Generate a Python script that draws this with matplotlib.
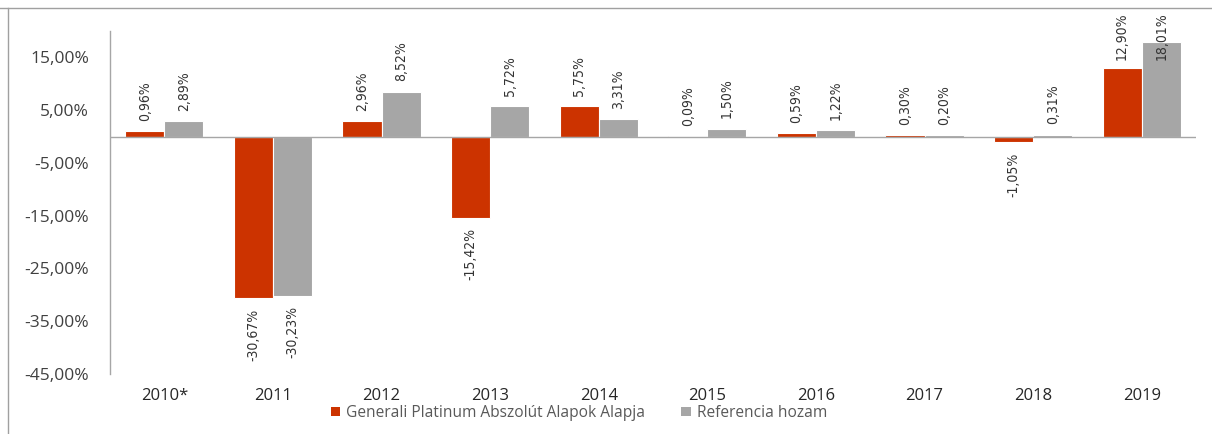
import matplotlib
matplotlib.use("Agg")
import matplotlib.pyplot as plt
from matplotlib.patches import Patch
from matplotlib.lines import Line2D
from matplotlib import font_manager

categories = ["2010*", "2011", "2012", "2013", "2014", "2015", "2016", "2017", "2018", "2019"]
fund_values = [0.96, -30.67, 2.96, -15.42, 5.75, 0.09, 0.59, 0.30, -1.05, 12.90]
ref_values = [2.89, -30.23, 8.52, 5.72, 3.31, 1.50, 1.22, 0.20, 0.31, 18.01]
series_names = ["Generali Platinum Abszolút Alapok Alapja", "Referencia hozam"]
yticks = [15, 5, -5, -15, -25, -35, -45]

RED = "#CC3300"
GRAY = "#A6A6A6"

# look for a regular-weight condensed font for the data labels
cands = []
for f in font_manager.fontManager.ttflist:
    n = (f.name + " " + f.fname).lower()
    if ("condensed" in n or "narrow" in n) and f.style == "normal":
        w = f.weight if isinstance(f.weight, int) else 400
        if 300 <= w <= 400 and "semi" not in f.fname.lower() and "extra" not in f.fname.lower():
            cands.append((abs(w - 400), f.fname))
cands.sort()
if cands:
    lbl_prop = font_manager.FontProperties(fname=cands[0][1], size=10)
else:
    lbl_prop = font_manager.FontProperties(family=["Roboto", "DejaVu Sans"], size=9.5)

plt.rcParams['font.family'] = ['Open Sans', 'DejaVu Sans']

W, H = 1212, 434
fig = plt.figure(figsize=(W / 100, H / 100), dpi=100)
ax = fig.add_axes([110 / W, 1 - 374 / H, (1196 - 110) / W, (374 - 31) / H])

x = list(range(len(categories)))
bw = 0.36
fx = [i - bw / 2 for i in x]
rx = [i + bw / 2 for i in x]
ax.bar(fx, fund_values, width=bw, color=RED, edgecolor="white", linewidth=0.8, zorder=2)
ax.bar(rx, ref_values, width=bw, color=GRAY, edgecolor="white", linewidth=0.8, zorder=2)

ax.set_xlim(-0.5, len(categories) - 0.5)
ax.set_ylim(-45, 20)
ax.axhline(0, color="#A6A6A6", linewidth=1.0, zorder=3)

for s in ["top", "right", "bottom"]:
    ax.spines[s].set_visible(False)
ax.spines["left"].set_color("#A6A6A6")
ax.spines["left"].set_linewidth(1.0)

ax.set_yticks(yticks)
ax.set_yticklabels([f"{v:.2f}".replace(".", ",") + "%" for v in yticks])
ax.tick_params(axis="y", length=0, pad=15, labelsize=12.5, labelcolor="#404040")
ax.set_xticks(x)
ax.set_xticklabels(categories)
ax.tick_params(axis="x", length=0, pad=10, labelsize=12, labelcolor="#262626")

def fmt(v):
    return f"{v:.2f}".replace(".", ",") + "%"

texts = []
for xs, vals in [(fx, fund_values), (rx, ref_values)]:
    for xi, v in zip(xs, vals):
        if v >= 0:
            t = ax.annotate(fmt(v), (xi, v), xytext=(0, 7.5), textcoords="offset points",
                            rotation=90, ha="center", va="bottom", fontproperties=lbl_prop,
                            color="#333333", annotation_clip=False)
        else:
            t = ax.annotate(fmt(v), (xi, v), xytext=(0, -7.5), textcoords="offset points",
                            rotation=90, ha="center", va="top", fontproperties=lbl_prop,
                            color="#333333", annotation_clip=False)
        texts.append((t, v))

# keep labels inside the chart area (Excel-style)
fig.canvas.draw()
r = fig.canvas.get_renderer()
top_limit = H - 12
for t, v in texts:
    bb = t.get_window_extent(r)
    if bb.y1 > top_limit:
        shift_pt = (bb.y1 - top_limit) * 72 / 100
        ox, oy = t.xyann
        t.xyann = (ox, oy - shift_pt)

# outer frame lines (top and left)
fig.add_artist(Line2D([0, 1], [1 - 7.5 / H, 1 - 7.5 / H], transform=fig.transFigure,
                      color="#A0A0A0", linewidth=1.0))
fig.add_artist(Line2D([7.5 / W, 7.5 / W], [0, 1 - 7.5 / H], transform=fig.transFigure,
                      color="#A0A0A0", linewidth=1.0))

handles = [Patch(facecolor=RED, edgecolor="none"), Patch(facecolor=GRAY, edgecolor="none")]
fig.legend(handles, series_names, loc="center", bbox_to_anchor=(579 / W, 1 - 413 / H),
           ncol=2, frameon=False, fontsize=11.2, labelcolor="#595959",
           handlelength=0.6, handleheight=0.6, handletextpad=0.4, columnspacing=2.3)

fig.savefig("out.png", dpi=100)
